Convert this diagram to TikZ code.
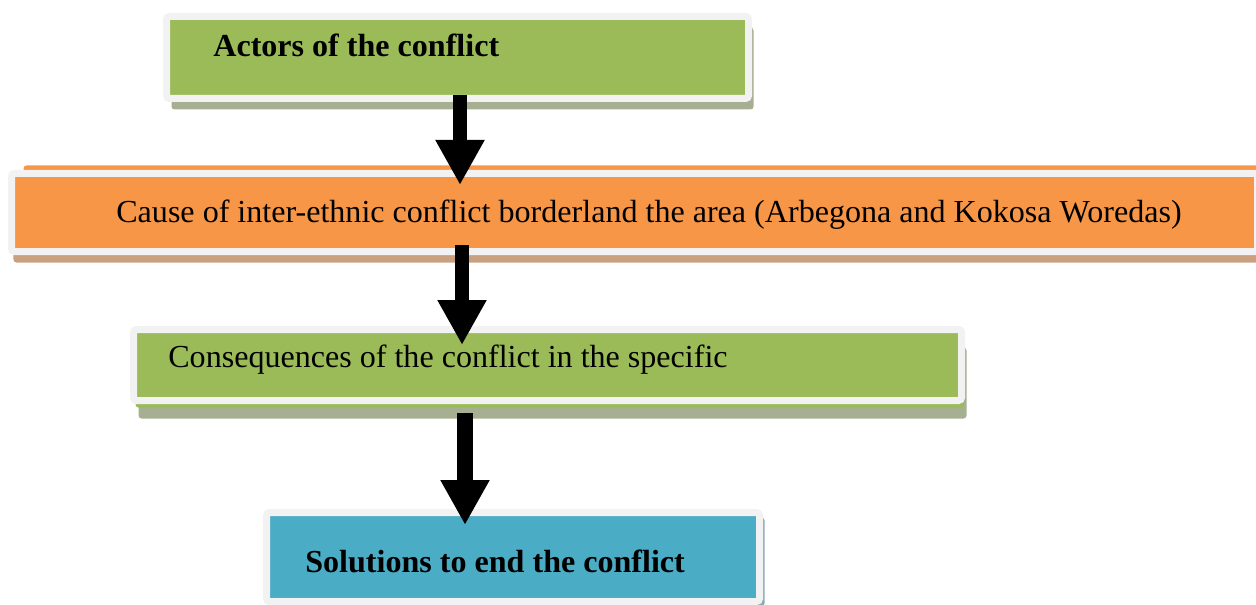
\documentclass[tikz,border=0pt]{standalone}
\usepackage{fontspec}
\setmainfont{Liberation Serif}
\usetikzlibrary{arrows.meta,positioning,shadows}
\usepackage{xcolor}
\definecolor{boxgreen}{HTML}{9BBB59}
\definecolor{boxorange}{HTML}{F79646}
\definecolor{boxblue}{HTML}{4BACC6}
\definecolor{framegray}{HTML}{F2F2F2}
\definecolor{greenshade}{HTML}{A6AF91}
\definecolor{tanshade}{HTML}{C9A080}
\definecolor{blueshade}{HTML}{8FAAB4}
\tikzset{
  box/.style={draw=framegray, line width=0.14cm, rounded corners=0.06cm, outer sep=0pt, inner sep=0pt},
  greenbox/.style={box, fill=boxgreen, drop shadow={shadow xshift=0.1cm, shadow yshift=-0.22cm, fill=greenshade, opacity=1}},
  consbox/.style={box, fill=boxgreen,
    drop shadow={shadow xshift=0.1cm, shadow yshift=-0.36cm, fill=greenshade, opacity=1},
    drop shadow={shadow xshift=0.04cm, shadow yshift=-0.14cm, fill=boxgreen, opacity=1}},
  orangebox/.style={box, fill=boxorange,
    drop shadow={shadow xshift=0.24cm, shadow yshift=0.16cm, fill=boxorange, opacity=1},
    drop shadow={shadow xshift=0.04cm, shadow yshift=-0.22cm, fill=tanshade, opacity=1}},
  bluebox/.style={box, fill=boxblue, drop shadow={shadow xshift=0.1cm, shadow yshift=-0.1cm, fill=blueshade, opacity=1}},
  boxtext/.style={anchor=base west, inner sep=0pt, font=\fontsize{18.25pt}{22pt}\selectfont},
  arrow/.style={-{Triangle[width=0.92cm, length=0.9cm]}, line width=0.28cm, draw=black}
}
\begin{document}
\begin{tikzpicture}
  \useasboundingbox (0,0) rectangle (25.12,-12.1);
  \node[greenbox, minimum width=11.64cm, minimum height=1.64cm] (actors) at (9.15,-1.15) {};
  \node[orangebox, minimum width=24.92cm, minimum height=1.56cm] (cause) at (12.69,-4.25) {};
  \node[consbox, minimum width=16.56cm, minimum height=1.42cm] (cons) at (10.95,-7.30) {};
  \node[bluebox, minimum width=9.86cm, minimum height=1.78cm] (solutions) at (10.26,-11.14) {};
  % texts
  \node[boxtext, font=\fontsize{18.25pt}{22pt}\selectfont\bfseries] (actorstext) at (4.26,-1.14) {Actors of the conflict};
  \node[boxtext] (causetext) at (2.32,-4.45) {Cause of inter-ethnic conflict borderland the area (Arbegona and Kokosa Woredas)};
  \node[boxtext] (constext) at (3.36,-7.34) {Consequences of the conflict in the specific};
  \node[boxtext, font=\fontsize{18.25pt}{22pt}\selectfont\bfseries] (solutionstext) at (6.1,-11.45) {Solutions to end the conflict};
  % arrows
  \draw[arrow] ([xshift=0.05cm, yshift=0.07cm]actors.south) -- ([xshift=0.05cm, yshift=-0.23cm]actors.south |- cause.north);
  \draw[arrow] ([xshift=-3.45cm, yshift=0.13cm]cause.south) -- ([xshift=-3.45cm, yshift=-0.31cm]cause.south |- cons.north);
  \draw[arrow, line width=0.32cm] ([xshift=-1.65cm, yshift=-0.25cm]cons.south) -- ([xshift=-1.65cm, yshift=-0.25cm]cons.south |- solutions.north);
\end{tikzpicture}
\end{document}
